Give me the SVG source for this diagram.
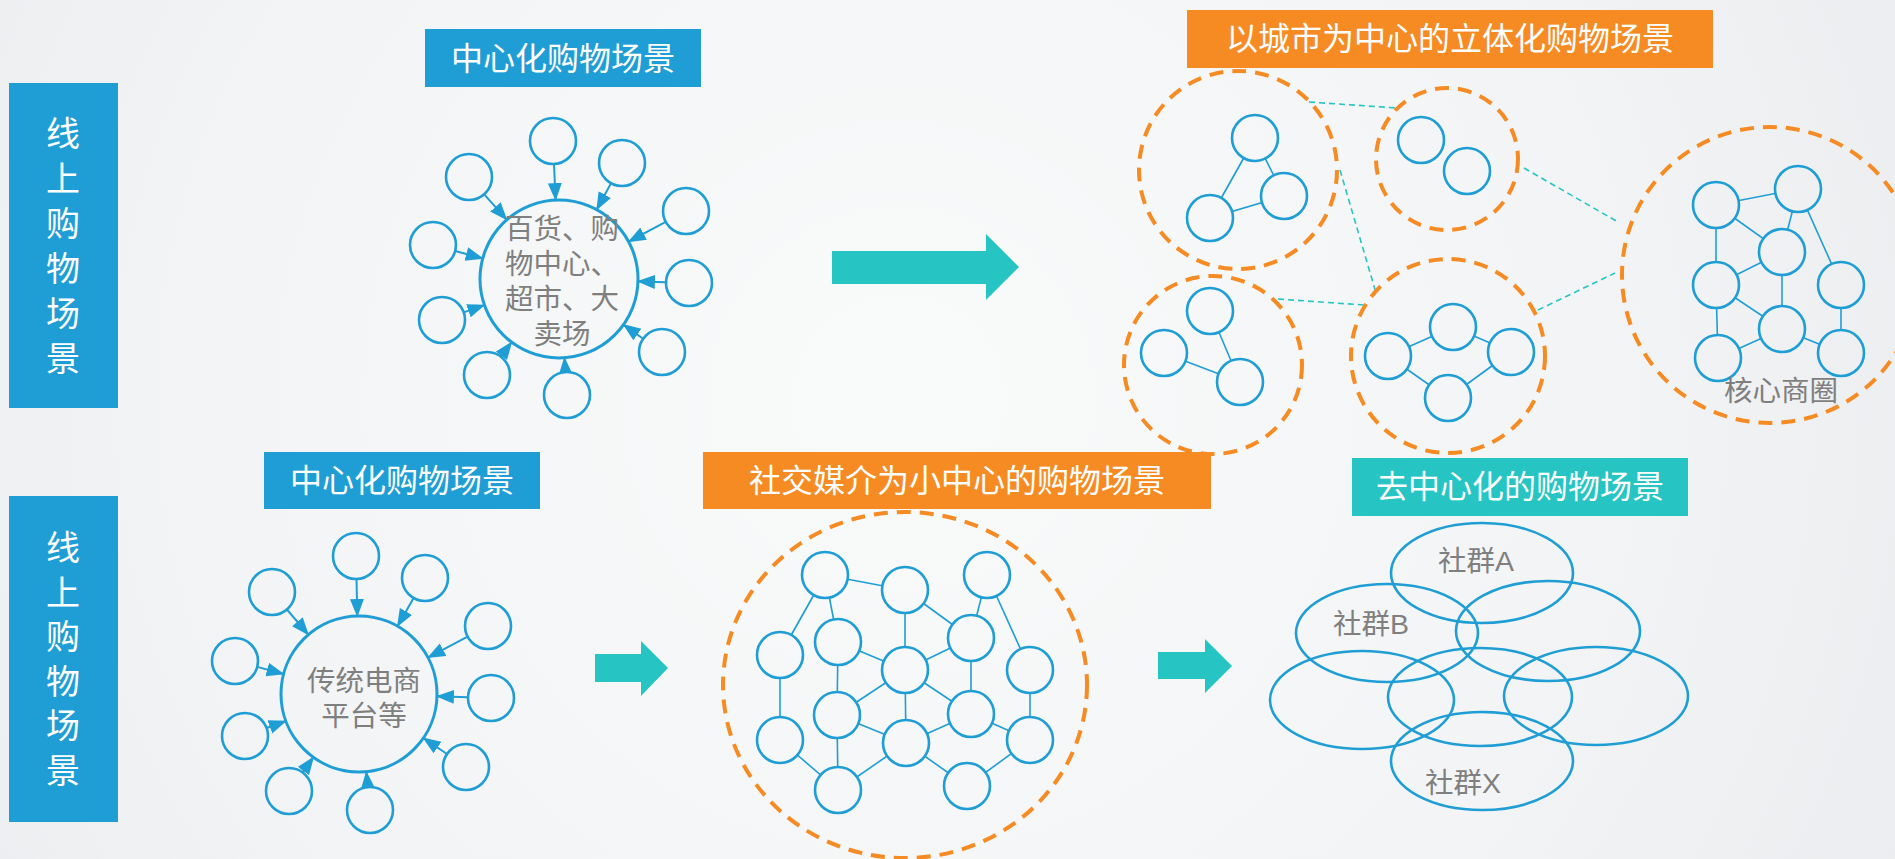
<svg xmlns="http://www.w3.org/2000/svg" width="1895" height="859" viewBox="0 0 1895 859">
<defs>
<radialGradient id="bg" gradientUnits="userSpaceOnUse" cx="900" cy="400" r="1150">
<stop offset="0" stop-color="#F9FAFA"/>
<stop offset="0.6" stop-color="#F3F4F5"/>
<stop offset="1" stop-color="#EBECEF"/>
</radialGradient>
<marker id="ah" markerUnits="userSpaceOnUse" markerWidth="19" markerHeight="15" refX="17" refY="7" orient="auto">
<path d="M0,0 L18,7 L0,14 Z" fill="#1F9ED5"/>
</marker>
<style>
.node{fill:url(#bg);stroke:#1F9ED5;stroke-width:2.6}
.hub{fill:url(#bg);stroke:#1F9ED5;stroke-width:3}
.link{stroke:#1F9ED5;stroke-width:1.6;fill:none}
.arrow{stroke:#1F9ED5;stroke-width:2;fill:none;marker-end:url(#ah)}
.zone{fill:none;stroke:#F68B24;stroke-width:4;stroke-dasharray:14 9}
.tlink{stroke:#26C5C4;stroke-width:1.6;stroke-dasharray:6 4;fill:none}
.ell{fill:none;stroke:#1F9ED5;stroke-width:2.6}
.big{fill:#26C5C4}
text{font-family:"Noto Sans CJK SC","Noto Sans",sans-serif}
.hdr{font-size:32px;fill:#FFFFFF;text-anchor:middle}
.side{font-family:"Liberation Sans","Noto Sans CJK SC",sans-serif;font-size:34px;fill:#FFFFFF;text-anchor:middle}
.lbl{font-family:"Liberation Sans","Noto Sans CJK SC",sans-serif;font-size:28.5px;fill:#7F7F7F;text-anchor:middle}
</style>
</defs>
<rect x="0" y="0" width="1895" height="859" fill="url(#bg)"/>

<!-- side bars -->
<g id="side1">
<rect x="9" y="83" width="109" height="325" fill="#1F9ED5"/>
<text class="side"><tspan x="63" y="146">线</tspan><tspan x="63" y="191">上</tspan><tspan x="63" y="236">购</tspan><tspan x="63" y="281">物</tspan><tspan x="63" y="326">场</tspan><tspan x="63" y="371">景</tspan></text>
</g>
<g id="side2">
<rect x="9" y="496" width="109" height="326" fill="#1F9ED5"/>
<text class="side"><tspan x="63" y="560">线</tspan><tspan x="63" y="605">上</tspan><tspan x="63" y="649">购</tspan><tspan x="63" y="694">物</tspan><tspan x="63" y="738">场</tspan><tspan x="63" y="783">景</tspan></text>
</g>

<!-- headers -->
<g id="hdr1"><rect x="425" y="29" width="276" height="58" fill="#1F9ED5"/><text class="hdr" x="563" y="70">中心化购物场景</text></g>
<g id="hdr2"><rect x="1187" y="10" width="526" height="58" fill="#F68B24"/><text class="hdr" x="1450" y="50">以城市为中心的立体化购物场景</text></g>
<g id="hdr3"><rect x="264" y="452" width="276" height="57" fill="#1F9ED5"/><text class="hdr" x="402" y="492">中心化购物场景</text></g>
<g id="hdr4"><rect x="703" y="452" width="508" height="57" fill="#F68B24"/><text class="hdr" x="957" y="492">社交媒介为小中心的购物场景</text></g>
<g id="hdr5"><rect x="1352" y="458" width="336" height="58" fill="#26C5C4"/><text class="hdr" x="1520" y="498">去中心化的购物场景</text></g>

<!-- connectors -->
<g id="connectors">
<!-- hub 1 arrows -->
<line class="arrow" x1="554" y1="164" x2="555.6" y2="200.1"/>
<line class="arrow" x1="611" y1="183.2" x2="596.7" y2="209.6"/>
<line class="arrow" x1="665.7" y1="221.9" x2="628.6" y2="241.7"/>
<line class="arrow" x1="666" y1="282.3" x2="637.9" y2="281.4"/>
<line class="arrow" x1="643.2" y1="338.7" x2="623.5" y2="324.7"/>
<line class="arrow" x1="565.4" y1="372" x2="564.5" y2="357.8"/>
<line class="arrow" x1="500.8" y1="356.6" x2="511.6" y2="342.2"/>
<line class="arrow" x1="463.7" y1="312.4" x2="484.4" y2="305.1"/>
<line class="arrow" x1="455.2" y1="251" x2="482.7" y2="258.4"/>
<line class="arrow" x1="484.2" y1="194.3" x2="506.7" y2="219.7"/>
<!-- hub 2 arrows -->
<line class="arrow" x1="356.5" y1="579" x2="357.3" y2="616"/>
<line class="arrow" x1="413.6" y1="598" x2="397.5" y2="626.2"/>
<line class="arrow" x1="467.6" y1="636.7" x2="428" y2="657.6"/>
<line class="arrow" x1="468" y1="697.3" x2="436.9" y2="696.3"/>
<line class="arrow" x1="447" y1="754" x2="423.4" y2="738"/>
<line class="arrow" x1="367.8" y1="787.1" x2="366.3" y2="771.7"/>
<line class="arrow" x1="302.5" y1="772.3" x2="313.4" y2="757.3"/>
<line class="arrow" x1="266.6" y1="728" x2="285.8" y2="721"/>
<line class="arrow" x1="257.2" y1="666.9" x2="283.6" y2="674"/>
<line class="arrow" x1="286.9" y1="609.5" x2="308.4" y2="634.7"/>
<!-- city links -->
<line class="link" x1="1255" y1="138" x2="1210" y2="218"/>
<line class="link" x1="1255" y1="138" x2="1284" y2="196"/>
<line class="link" x1="1210" y1="218" x2="1284" y2="196"/>
<line class="link" x1="1210" y1="311" x2="1240" y2="382"/>
<line class="link" x1="1164" y1="353" x2="1240" y2="382"/>
<line class="link" x1="1388" y1="356" x2="1453" y2="327"/>
<line class="link" x1="1453" y1="327" x2="1511" y2="352"/>
<line class="link" x1="1388" y1="356" x2="1448" y2="398"/>
<line class="link" x1="1448" y1="398" x2="1511" y2="352"/>
<line class="link" x1="1716" y1="205" x2="1798" y2="189"/>
<line class="link" x1="1716" y1="205" x2="1716" y2="285"/>
<line class="link" x1="1716" y1="205" x2="1782" y2="252"/>
<line class="link" x1="1798" y1="189" x2="1782" y2="252"/>
<line class="link" x1="1798" y1="189" x2="1841" y2="285"/>
<line class="link" x1="1716" y1="285" x2="1782" y2="252"/>
<line class="link" x1="1782" y1="252" x2="1782" y2="329"/>
<line class="link" x1="1716" y1="285" x2="1782" y2="329"/>
<line class="link" x1="1716" y1="285" x2="1718" y2="358"/>
<line class="link" x1="1718" y1="358" x2="1782" y2="329"/>
<line class="link" x1="1841" y1="285" x2="1841" y2="353"/>
<line class="link" x1="1782" y1="329" x2="1841" y2="353"/>
<!-- zone dashed teal links -->
<line class="tlink" x1="1309" y1="102" x2="1397" y2="108"/>
<line class="tlink" x1="1524" y1="168" x2="1618" y2="222"/>
<line class="tlink" x1="1340" y1="170" x2="1376" y2="293"/>
<line class="tlink" x1="1278" y1="299" x2="1364" y2="305"/>
<line class="tlink" x1="1538" y1="310" x2="1615" y2="273"/>
<!-- social network links -->
<line class="link" x1="825" y1="575" x2="905" y2="590"/>
<line class="link" x1="825" y1="575" x2="780" y2="655"/>
<line class="link" x1="825" y1="575" x2="838" y2="642"/>
<line class="link" x1="905" y1="590" x2="905" y2="670"/>
<line class="link" x1="905" y1="590" x2="971" y2="638"/>
<line class="link" x1="987" y1="575" x2="971" y2="638"/>
<line class="link" x1="987" y1="575" x2="1030" y2="670"/>
<line class="link" x1="838" y1="642" x2="905" y2="670"/>
<line class="link" x1="971" y1="638" x2="905" y2="670"/>
<line class="link" x1="971" y1="638" x2="971" y2="714"/>
<line class="link" x1="780" y1="655" x2="780" y2="740"/>
<line class="link" x1="838" y1="642" x2="837" y2="715"/>
<line class="link" x1="905" y1="670" x2="837" y2="715"/>
<line class="link" x1="905" y1="670" x2="971" y2="714"/>
<line class="link" x1="905" y1="670" x2="906" y2="743"/>
<line class="link" x1="837" y1="715" x2="906" y2="743"/>
<line class="link" x1="971" y1="714" x2="906" y2="743"/>
<line class="link" x1="1030" y1="670" x2="1030" y2="740"/>
<line class="link" x1="971" y1="714" x2="1030" y2="740"/>
<line class="link" x1="837" y1="715" x2="838" y2="790"/>
<line class="link" x1="780" y1="740" x2="838" y2="790"/>
<line class="link" x1="906" y1="743" x2="838" y2="790"/>
<line class="link" x1="906" y1="743" x2="967" y2="786"/>
<line class="link" x1="967" y1="786" x2="1030" y2="740"/>
<!-- big transition arrows -->
<polygon class="big" points="832,251 986,251 986,234 1019,267 986,300 986,284 832,284"/>
<polygon class="big" points="595,654 641,654 641,641 668,668 641,696 641,682 595,682"/>
<polygon class="big" points="1158,652 1205,652 1205,639 1232,666 1205,693 1205,679 1158,679"/>
</g>

<!-- hub 1 -->
<g id="hub1">
<circle class="hub" cx="559" cy="279" r="79"/>
<text class="lbl"><tspan x="562" y="239">百货、购</tspan><tspan x="562" y="274">物中心、</tspan><tspan x="562" y="309">超市、大</tspan><tspan x="562" y="344">卖场</tspan></text>
</g>
<g id="h1n1"><circle class="node" cx="553" cy="141" r="23"/></g>
<g id="h1n2"><circle class="node" cx="622" cy="163" r="23"/></g>
<g id="h1n3"><circle class="node" cx="686" cy="211" r="23"/></g>
<g id="h1n4"><circle class="node" cx="689" cy="283" r="23"/></g>
<g id="h1n5"><circle class="node" cx="662" cy="352" r="23"/></g>
<g id="h1n6"><circle class="node" cx="567" cy="395" r="23"/></g>
<g id="h1n7"><circle class="node" cx="487" cy="375" r="23"/></g>
<g id="h1n8"><circle class="node" cx="442" cy="320" r="23"/></g>
<g id="h1n9"><circle class="node" cx="433" cy="245" r="23"/></g>
<g id="h1n10"><circle class="node" cx="469" cy="177" r="23"/></g>

<!-- hub 2 -->
<g id="hub2">
<circle class="hub" cx="359" cy="694" r="78"/>
<text class="lbl"><tspan x="364" y="691">传统电商</tspan><tspan x="364" y="726">平台等</tspan></text>
</g>
<g id="h2n1"><circle class="node" cx="356" cy="556" r="23"/></g>
<g id="h2n2"><circle class="node" cx="425" cy="578" r="23"/></g>
<g id="h2n3"><circle class="node" cx="488" cy="626" r="23"/></g>
<g id="h2n4"><circle class="node" cx="491" cy="698" r="23"/></g>
<g id="h2n5"><circle class="node" cx="466" cy="767" r="23"/></g>
<g id="h2n6"><circle class="node" cx="370" cy="810" r="23"/></g>
<g id="h2n7"><circle class="node" cx="289" cy="791" r="23"/></g>
<g id="h2n8"><circle class="node" cx="245" cy="736" r="23"/></g>
<g id="h2n9"><circle class="node" cx="235" cy="661" r="23"/></g>
<g id="h2n10"><circle class="node" cx="272" cy="592" r="23"/></g>

<!-- city zones -->
<g id="zone1">
<circle class="zone" cx="1238" cy="170" r="99"/>
<circle class="node" cx="1255" cy="138" r="23"/>
<circle class="node" cx="1284" cy="196" r="23"/>
<circle class="node" cx="1210" cy="218" r="23"/>
</g>
<g id="zone2">
<circle class="zone" cx="1213" cy="365" r="89"/>
<circle class="node" cx="1210" cy="311" r="23"/>
<circle class="node" cx="1164" cy="353" r="23"/>
<circle class="node" cx="1240" cy="382" r="23"/>
</g>
<g id="zone3">
<circle class="zone" cx="1447" cy="159" r="71"/>
<circle class="node" cx="1421" cy="140" r="23"/>
<circle class="node" cx="1467" cy="171" r="23"/>
</g>
<g id="zone4">
<circle class="zone" cx="1448" cy="356" r="97"/>
<circle class="node" cx="1453" cy="327" r="23"/>
<circle class="node" cx="1388" cy="356" r="23"/>
<circle class="node" cx="1511" cy="352" r="23"/>
<circle class="node" cx="1448" cy="398" r="23"/>
</g>
<g id="zone5">
<circle class="zone" cx="1770" cy="275" r="148"/>
<circle class="node" cx="1716" cy="205" r="23"/>
<circle class="node" cx="1798" cy="189" r="23"/>
<circle class="node" cx="1782" cy="252" r="23"/>
<circle class="node" cx="1716" cy="285" r="23"/>
<circle class="node" cx="1841" cy="285" r="23"/>
<circle class="node" cx="1782" cy="329" r="23"/>
<circle class="node" cx="1718" cy="358" r="23"/>
<circle class="node" cx="1841" cy="353" r="23"/>
<text class="lbl" x="1781" y="401">核心商圈</text>
</g>

<!-- social network -->
<g id="social">
<ellipse class="zone" cx="905" cy="685" rx="182" ry="173"/>
<circle class="node" cx="825" cy="575" r="23"/>
<circle class="node" cx="905" cy="590" r="23"/>
<circle class="node" cx="987" cy="575" r="23"/>
<circle class="node" cx="780" cy="655" r="23"/>
<circle class="node" cx="838" cy="642" r="23"/>
<circle class="node" cx="905" cy="670" r="23"/>
<circle class="node" cx="971" cy="638" r="23"/>
<circle class="node" cx="1030" cy="670" r="23"/>
<circle class="node" cx="837" cy="715" r="23"/>
<circle class="node" cx="971" cy="714" r="23"/>
<circle class="node" cx="780" cy="740" r="23"/>
<circle class="node" cx="906" cy="743" r="23"/>
<circle class="node" cx="1030" cy="740" r="23"/>
<circle class="node" cx="838" cy="790" r="23"/>
<circle class="node" cx="967" cy="786" r="23"/>
</g>

<!-- communities -->
<g id="communities">
<ellipse class="ell" cx="1482" cy="573" rx="91" ry="50"/>
<ellipse class="ell" cx="1387" cy="633" rx="91" ry="49"/>
<ellipse class="ell" cx="1548" cy="631" rx="92" ry="50"/>
<ellipse class="ell" cx="1362" cy="700" rx="92" ry="49"/>
<ellipse class="ell" cx="1480" cy="697" rx="92" ry="49"/>
<ellipse class="ell" cx="1596" cy="696" rx="92" ry="49"/>
<ellipse class="ell" cx="1482" cy="761" rx="91" ry="49"/>
<text class="lbl" x="1476" y="571">社群A</text>
<text class="lbl" x="1371" y="634">社群B</text>
<text class="lbl" x="1463" y="793">社群X</text>
</g>
</svg>
